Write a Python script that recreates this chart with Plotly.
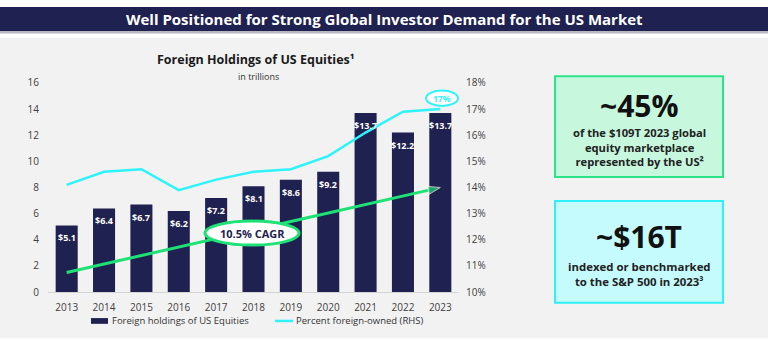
import plotly.graph_objects as go

W, H = 768, 351

years = [2013, 2014, 2015, 2016, 2017, 2018, 2019, 2020, 2021, 2022, 2023]
holdings = [5.1, 6.4, 6.7, 6.2, 7.2, 8.1, 8.6, 9.2, 13.7, 12.2, 13.7]
pct_foreign = [14.1, 14.6, 14.7, 13.9, 14.3, 14.6, 14.7, 15.2, 16.1, 16.9, 17.0]
bar_labels = ["$5.1", "$6.4", "$6.7", "$6.2", "$7.2", "$8.1", "$8.6", "$9.2", "$13.7", "$12.2", "$13.7"]
cagr_arrow_years = [2013, 2023]
cagr_arrow_vals = [1.5, 8.0]
left_ticks = [0, 2, 4, 6, 8, 10, 12, 14, 16]
right_ticks = [10, 11, 12, 13, 14, 15, 16, 17, 18]
right_tick_labels = ["10%", "11%", "12%", "13%", "14%", "15%", "16%", "17%", "18%"]

NAVY = "#1f2150"
CYAN = "#2ef3fb"
GREEN = "#1ee275"
FONT = "Open Sans"


def px(x):
    return x / W


def py(y):
    return 1 - y / H


fig = go.Figure()

fig.add_trace(go.Bar(
    x=years, y=holdings, width=0.59, marker=dict(color=NAVY, line=dict(width=0)),
    name="Foreign holdings of US Equities", showlegend=False, hoverinfo="skip",
))
fig.add_trace(go.Scatter(
    x=years, y=pct_foreign, yaxis="y2", mode="lines",
    line=dict(color=CYAN, width=2.5), name="Percent foreign-owned (RHS)",
    showlegend=False, hoverinfo="skip",
))
fig.add_trace(go.Scatter(
    x=cagr_arrow_years, y=cagr_arrow_vals, mode="lines+markers",
    line=dict(color=GREEN, width=3),
    marker=dict(symbol=["circle", "arrow"], size=[0, 13], angleref="previous", color=GREEN),
    showlegend=False, hoverinfo="skip",
))

annotations = []
for yr, v, lab in zip(years, holdings, bar_labels):
    annotations.append(dict(
        x=yr, y=v, xref="x", yref="y", text=lab, showarrow=False,
        yanchor="top", yshift=-4,
        font=dict(family=FONT, size=9, color="white", weight="bold"),
    ))

shapes = [
    dict(type="rect", xref="paper", yref="paper", x0=0, x1=1, y0=py(345), y1=py(32),
         fillcolor="#f2f2f2", line=dict(width=0), layer="below"),
    dict(type="rect", xref="paper", yref="paper", x0=0, x1=1, y0=py(25), y1=py(0),
         fillcolor=NAVY, line=dict(width=0), layer="below"),
    dict(type="rect", xref="paper", yref="paper", x0=0, x1=1, y0=py(27.5), y1=py(25),
         fillcolor="#b8b8c0", line=dict(width=0), layer="below"),
    # CAGR ellipse
    dict(type="circle", xref="paper", yref="paper", x0=px(205), x1=px(299), y0=py(248), y1=py(223),
         fillcolor="white", line=dict(color=GREEN, width=3), layer="above"),
    # 17% ellipse
    dict(type="circle", xref="paper", yref="paper", x0=px(426), x1=px(458), y0=py(103), y1=py(87),
         fillcolor="white", line=dict(color=CYAN, width=2), layer="above"),
    # boxes
    dict(type="rect", xref="paper", yref="paper", x0=px(555), x1=px(723), y0=py(177), y1=py(72),
         fillcolor="#c7f7dc", line=dict(color="#2be389", width=2), layer="below"),
    dict(type="rect", xref="paper", yref="paper", x0=px(555), x1=px(723), y0=py(308), y1=py(202),
         fillcolor="#c6fbfd", line=dict(color="#2ef0f8", width=2), layer="below"),
    # legend swatches
    dict(type="rect", xref="paper", yref="paper", x0=px(91), x1=px(108), y0=py(330), y1=py(324),
         fillcolor=NAVY, line=dict(width=0)),
    dict(type="line", xref="paper", yref="paper", x0=px(275), x1=px(293), y0=py(327), y1=py(327),
         line=dict(color=CYAN, width=2.5)),
]


def txt(x, y, s, size, color="#222", bold=False, xanchor="center"):
    annotations.append(dict(
        x=px(x), y=py(y), xref="paper", yref="paper", text=s, showarrow=False,
        xanchor=xanchor, yanchor="middle",
        font=dict(family=FONT, size=size, color=color, weight="bold" if bold else "normal"),
    ))


txt(384, 12.5, "Well Positioned for Strong Global Investor Demand for the US Market", 15, "white", True)
txt(256, 55, "Foreign Holdings of US Equities¹", 12.5, "#1a1a1a", True)
txt(258, 72, "in trillions", 9, "#333")
txt(252, 235.5, "10.5% CAGR", 11, NAVY, True)
txt(442, 95, "17%", 8.5, CYAN, True)
txt(639, 103, "~45%", 30, "#111", True)
txt(639, 146, "of the $109T 2023 global<br>equity marketplace<br>represented by the US²", 11.2, "#222", True)
txt(639, 239, "~$16T", 30, "#111", True)
txt(639, 278, "indexed or benchmarked<br>to the S&P 500 in 2023³", 11.4, "#222", True)
txt(110, 327, "Foreign holdings of US Equities", 9.5, "#333", False, "left")
txt(294, 327, "Percent foreign-owned (RHS)", 9.5, "#333", False, "left")

tickfont = dict(family=FONT, size=10, color="#404040")

fig.update_layout(
    width=W, height=H, margin=dict(l=0, r=0, t=0, b=0),
    paper_bgcolor="white", plot_bgcolor="rgba(0,0,0,0)",
    showlegend=False,
    xaxis=dict(domain=[px(48), px(459)], range=[2012.5, 2023.5], tickvals=years,
               ticktext=[str(y) for y in years], showgrid=False, zeroline=False,
               showline=True, linecolor="#d4d4d4", linewidth=1, ticks="",
               tickfont=tickfont, ticklabelstandoff=6),
    yaxis=dict(domain=[py(297), py(79)], range=[0, 16], tickvals=left_ticks,
               showgrid=False, zeroline=False, showline=False, ticks="",
               tickfont=tickfont, ticklabelstandoff=8),
    yaxis2=dict(domain=[py(297), py(79)], range=[10, 18], tickvals=right_ticks,
                ticktext=right_tick_labels, overlaying="y", side="right", anchor="x",
                showgrid=False, zeroline=False, showline=False, ticks="",
                tickfont=tickfont, ticklabelstandoff=6),
    shapes=shapes, annotations=annotations,
)

fig.write_html("out.html")
